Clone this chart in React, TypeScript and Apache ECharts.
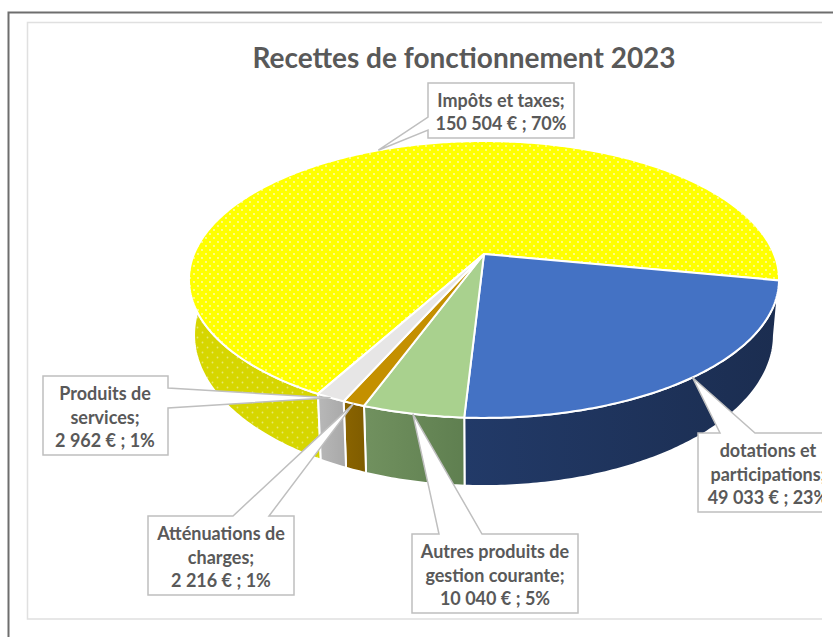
import React, { useEffect, useRef } from "react";
import * as echarts from "echarts";

const titleText = "Recettes de fonctionnement 2023";
const categories = ["Impôts et taxes", "dotations et participations", "Autres produits de gestion courante", "Atténuations de charges", "Produits de services"];
const values = [150504, 49033, 10040, 2216, 2962];
const labelNames = [
  ["Impôts et taxes;"],
  ["dotations et", "participations;"],
  ["Autres produits de", "gestion courante;"],
  ["Atténuations de", "charges;"],
  ["Produits de", "services;"],
];
const topColors = ["#ffff00", "#4472c4", "#a9d18e", "#c49000", "#e7e6e6"];
const wallColors = [
  ["#d2d200", "#dcdc00"],
  ["#223a68", "#1b2d50"],
  ["#71915f", "#5f7f50"],
  ["#8a6400", "#7f5c00"],
  ["#b8b8b8", "#a8a8a8"],
];

// layout of the perspective disc
const FIRST_ANGLE = 118.7;
const CX = 484;
const PERSP = -0.184;
const TOP = { a: 290, b: 254, k: 87 };
const BOTTOM = { a: 285, b: 307, k: 89.6 };
const WALL_FROM = 0;
const WALL_TO = 190;

// callout boxes: x0, y0, x1, y1, wedge base (two points), text centre x
const boxes = [
  { x0: 428, y0: 83, x1: 574, y1: 138, base: [[428, 130], [428, 117]], tx: 501 },
  { x0: 698, y0: 433, x1: 840, y1: 512, base: [[720, 433], [755, 433]], tx: 768 },
  { x0: 412, y0: 534, x1: 578, y1: 613, base: [[439, 534], [482, 534]], tx: 495 },
  { x0: 148, y0: 516, x1: 294, y1: 595, base: [[233, 516], [269, 516]], tx: 221 },
  { x0: 43, y0: 376, x1: 168, y1: 455, base: [[168, 388], [168, 408]], tx: 105 },
];

const total = values.reduce((s, v) => s + v, 0);
const spans = (() => {
  let a = FIRST_ANGLE;
  return values.map((v) => {
    const start = a;
    const end = a + (v / total) * 360;
    a = end >= 360 ? end - 360 : end;
    return [start, end];
  });
})();

const project = (deg: number, p: { a: number; b: number; k: number }) => {
  const r = (deg * Math.PI) / 180;
  const u = Math.cos(r);
  const v = Math.sin(r);
  const d = 1 + PERSP * v;
  return [CX + (p.a * u) / d, (p.k * v + p.b) / d];
};

const arcPoints = (from: number, to: number, p: { a: number; b: number; k: number }) => {
  const n = Math.max(2, Math.ceil(Math.abs(to - from) * 1.5));
  const pts: number[][] = [];
  for (let i = 0; i <= n; i++) pts.push(project(from + ((to - from) * i) / n, p));
  return pts;
};

const dotPattern = (bg: string, dot: string, size: number, r: number) => {
  const c = document.createElement("canvas");
  c.width = size;
  c.height = size;
  const g = c.getContext("2d")!;
  g.fillStyle = bg;
  g.fillRect(0, 0, size, size);
  g.fillStyle = dot;
  [[size / 4, size / 4], [(3 * size) / 4, (3 * size) / 4]].forEach(([x, y]) => {
    g.beginPath();
    g.arc(x, y, r, 0, Math.PI * 2);
    g.fill();
  });
  return { image: c, repeat: "repeat" };
};

export default function App() {
  const ref = useRef<HTMLDivElement>(null);
  useEffect(() => {
    const chart = echarts.init(ref.current!, undefined, { renderer: "svg" });
    const yellowTop = dotPattern("#ffff00", "#fffbc0", 8, 0.9);
    const yellowWall = dotPattern("#d6d600", "#e8e870", 10, 0.9);

    const renderWall = (params: any) => {
      const i = params.dataIndex;
      let [s, e] = spans[i];
      s = Math.max(s, WALL_FROM);
      e = Math.min(e, WALL_TO);
      if (e <= s) return null;
      const pts = [...arcPoints(s, e, TOP), ...arcPoints(e, s, BOTTOM)];
      const fill =
        i === 0
          ? yellowWall
          : new echarts.graphic.LinearGradient(0, 0, 1, 0, [
              { offset: 0, color: wallColors[i][0] },
              { offset: 1, color: wallColors[i][1] },
            ]);
      return {
        type: "polygon",
        shape: { points: pts },
        style: { fill, stroke: "#ffffff", lineWidth: 2 },
      };
    };

    const renderTop = (params: any) => {
      const i = params.dataIndex;
      const [s, e] = spans[i];
      const pts = [[CX, TOP.b], ...arcPoints(s, e, TOP)];
      return {
        type: "polygon",
        shape: { points: pts },
        style: { fill: i === 0 ? yellowTop : topColors[i], stroke: "#ffffff", lineWidth: 2, lineJoin: "round" },
      };
    };

    const renderCallout = (params: any, api: any) => {
      const i = params.dataIndex;
      const [s, e] = spans[i];
      const tip = project((s + e) / 2, TOP);
      const b = boxes[i];
      const lines = [
        ...labelNames[i],
        `${String(api.value(0)).replace(/\B(?=(\d{3})+$)/g, " ")} € ; ${Math.round((api.value(0) / total) * 100)}%`,
      ];
      const lh = 23.5;
      const cy = (b.y0 + b.y1) / 2 + 1;
      const corners = [[b.x0, b.y0], [b.x1, b.y0], [b.x1, b.y1], [b.x0, b.y1]];
      // insert the wedge into the outline at the edge that carries its base
      const outline: number[][] = [];
      corners.forEach((c, k) => {
        outline.push(c);
        const n = corners[(k + 1) % 4];
        const onEdge = (p: number[]) =>
          (c[0] === n[0] && p[0] === c[0]) || (c[1] === n[1] && p[1] === c[1]);
        if (onEdge(b.base[0]) && onEdge(b.base[1])) outline.push(b.base[0], tip, b.base[1]);
      });
      return {
        type: "group",
        children: [
          {
            type: "polygon",
            shape: { points: outline },
            style: { fill: "#ffffff", stroke: "#bfbfbf", lineWidth: 1.5 },
          },
          ...lines.map((t, k) => ({
            type: "text",
            style: {
              text: t,
              x: b.tx,
              y: cy + (k - (lines.length - 1) / 2) * lh,
              align: "center",
              verticalAlign: "middle",
              fill: "#595959",
              font: "bold 18px Lato",
            },
          })),
        ],
      };
    };

    chart.setOption({
      animation: false,
      backgroundColor: "#ffffff",
      title: {
        text: titleText,
        left: 459,
        top: 38,
        textAlign: "center",
        textStyle: { color: "#595959", fontFamily: "Lato", fontWeight: "bold", fontSize: 28 },
      },
      graphic: [
        {
          type: "polyline",
          z: 0,
          shape: { points: [[8.5, 637], [8.5, 12.5], [833, 12.5]] },
          style: { stroke: "#6e6e6e", lineWidth: 2, fill: "none" },
        },
        {
          type: "polyline",
          z: 0,
          shape: { points: [[822, 22.5], [27.5, 22.5], [27.5, 619], [822, 619]] },
          style: { stroke: "#e0e0e0", lineWidth: 1.5, fill: "none" },
        },
        {
          type: "rect",
          z: 100,
          shape: { x: 822, y: 425, width: 11, height: 95 },
          style: { fill: "#ffffff" },
        },
      ],
      series: [
        { type: "custom", name: "walls", coordinateSystem: "none", data: values, renderItem: renderWall, z: 1, silent: true },
        { type: "custom", name: "top", coordinateSystem: "none", data: values, renderItem: renderTop, z: 2, silent: true },
        { type: "custom", name: "labels", coordinateSystem: "none", data: values, renderItem: renderCallout, z: 3, silent: true },
      ],
    });
    return () => chart.dispose();
  }, []);
  return <div ref={ref} aria-label={categories.join(", ")} style={{ position: "absolute", left: 0, top: 0, width: 833, height: 637 }} />;
}
